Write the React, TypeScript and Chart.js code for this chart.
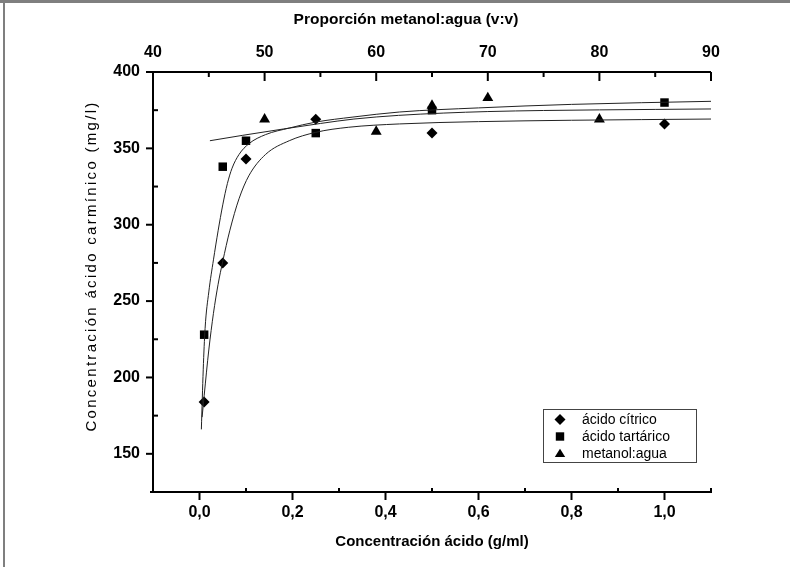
import React, { useEffect, useRef } from 'react';
import { Chart, registerables } from 'chart.js';

Chart.register(...registerables);

// ---- data ----
const seriesLabels = ['ácido cítrico', 'ácido tartárico', 'metanol:agua'];

const citricoX = [0.01, 0.05, 0.1, 0.25, 0.5, 1.0];
const citricoY = [184, 275, 343, 369, 360, 366];

const tartaricoX = [0.01, 0.05, 0.1, 0.25, 0.5, 1.0];
const tartaricoY = [228, 338, 355, 360, 375, 380];

const metanolX = [50, 60, 65, 70, 80];
const metanolY = [369, 361, 378, 383, 369];

// fitted curves
const citricoFitX = [0.0056, 0.01, 0.02, 0.03, 0.04, 0.05, 0.065, 0.085, 0.106, 0.142, 0.193, 0.25, 0.32, 0.43, 0.6, 0.8, 1.1];
const citricoFitY = [174, 188, 218, 242, 261, 276, 296, 317, 332, 346, 355, 360.5, 363.8, 366, 367.5, 368.4, 369.2];

const tartaricoFitX = [0.004, 0.008, 0.012, 0.02, 0.03, 0.04, 0.05, 0.06, 0.07, 0.085, 0.106, 0.142, 0.193, 0.25, 0.33, 0.43, 0.6, 0.8, 1.1];
const tartaricoFitY = [166, 205, 232, 256, 277, 296, 313, 327, 337, 346, 353, 359, 363.3, 367.2, 370.5, 373.8, 376.5, 378.8, 380.8];

const metanolFitX = [45.1, 48, 51.7, 55, 58, 62, 66, 70, 75, 80, 85, 90];
const metanolFitY = [355, 358.5, 362.7, 366.3, 369.2, 371.6, 373.1, 374.1, 374.8, 375.2, 375.5, 375.8];

// axes
const xTicks = [0, 0.2, 0.4, 0.6, 0.8, 1.0];
const xMinorTicks = [0.1, 0.3, 0.5, 0.7, 0.9, 1.1];
const x2Ticks = [40, 50, 60, 70, 80, 90];
const x2MinorTicks = [45, 55, 65, 75, 85];
const yTicks = [150, 200, 250, 300, 350, 400];
const yMinorTicks = [175, 225, 275, 325, 375];

const xTitle = 'Concentración ácido (g/ml)';
const x2Title = 'Proporción metanol:agua (v:v)';
const yTitle = 'Concentración ácido carmínico (mg/l)';

const FONT = "'Liberation Sans', Arial, sans-serif";

function pts(xs: number[], ys: number[]) {
  return xs.map((x, i) => ({ x, y: ys[i] }));
}

function drawMarker(ctx: CanvasRenderingContext2D, style: string, x: number, y: number) {
  ctx.beginPath();
  if (style === 'diamond') {
    const r = 5.5;
    ctx.moveTo(x, y - r);
    ctx.lineTo(x + r, y);
    ctx.lineTo(x, y + r);
    ctx.lineTo(x - r, y);
  } else if (style === 'square') {
    const h = 4.2;
    ctx.rect(x - h, y - h, 2 * h, 2 * h);
  } else {
    const r = 6;
    ctx.moveTo(x, y - r * 0.8);
    ctx.lineTo(x + r * 0.866, y + r * 0.6);
    ctx.lineTo(x - r * 0.866, y + r * 0.6);
  }
  ctx.closePath();
  ctx.fill();
}

const originPlugin = {
  id: 'originAxes',
  beforeDraw(chart: any) {
    const ctx = chart.ctx as CanvasRenderingContext2D;
    ctx.save();
    ctx.fillStyle = '#ffffff';
    ctx.fillRect(0, 0, chart.width, chart.height);
    ctx.fillStyle = '#7f7f7f';
    ctx.fillRect(0, 0, chart.width, 3);
    ctx.fillRect(3, 0, 2, chart.height);
    ctx.restore();
  },
  afterDraw(chart: any) {
    const ctx = chart.ctx as CanvasRenderingContext2D;
    const a = chart.chartArea;
    const sx = chart.scales.x;
    const sx2 = chart.scales.x2;
    const sy = chart.scales.y;
    const line = (x1: number, y1: number, x2: number, y2: number) => {
      ctx.beginPath();
      ctx.moveTo(x1, y1);
      ctx.lineTo(x2, y2);
      ctx.stroke();
    };
    ctx.save();
    ctx.strokeStyle = '#000';
    ctx.lineWidth = 2;
    line(a.left, a.top - 1, a.left, a.bottom + 1);
    line(a.left - 1, a.top, a.right, a.top);
    line(a.left - 3, a.bottom, a.right + 1, a.bottom);

    yTicks.forEach((v) => {
      const p = sy.getPixelForValue(v);
      line(a.left - 7, p, a.left, p);
    });
    yMinorTicks.forEach((v) => {
      const p = sy.getPixelForValue(v);
      line(a.left, p, a.left + 5, p);
    });
    xTicks.forEach((v) => {
      const p = sx.getPixelForValue(v);
      line(p, a.bottom, p, a.bottom + 8);
    });
    xMinorTicks.forEach((v) => {
      const p = sx.getPixelForValue(v);
      line(p, a.bottom, p, a.bottom - 4);
    });
    x2Ticks.forEach((v) => {
      const p = sx2.getPixelForValue(v);
      line(p, a.top, p, a.top + 9);
    });
    x2MinorTicks.forEach((v) => {
      const p = sx2.getPixelForValue(v);
      line(p, a.top, p, a.top + 5);
    });

    // titles
    ctx.fillStyle = '#000';
    ctx.textAlign = 'center';
    ctx.textBaseline = 'middle';
    ctx.font = `bold 15px ${FONT}`;
    ctx.fillText(xTitle, (a.left + a.right) / 2, 542);
    ctx.font = `bold 15.5px ${FONT}`;
    ctx.fillText(x2Title, 406, 20);
    ctx.save();
    ctx.translate(92, 266);
    ctx.rotate(-Math.PI / 2);
    ctx.font = `15px ${FONT}`;
    (ctx as any).letterSpacing = '2.3px';
    ctx.fillText(yTitle, 0, 0);
    ctx.restore();

    // legend
    const bx = 543, by = 409, bw = 153, bh = 53;
    ctx.lineWidth = 1;
    ctx.strokeStyle = '#444';
    ctx.strokeRect(bx + 0.5, by + 0.5, bw, bh);
    const styles = ['diamond', 'square', 'triangle'];
    ctx.textAlign = 'left';
    ctx.font = `14px ${FONT}`;
    seriesLabels.forEach((lab, i) => {
      const yy = by + 10.5 + i * 17;
      ctx.fillStyle = '#000';
      drawMarker(ctx, styles[i], 560, yy);
      ctx.fillText(lab, 582, yy + 0.5);
    });
    ctx.restore();
  },
};

export default function App() {
  const ref = useRef<HTMLCanvasElement | null>(null);

  useEffect(() => {
    if (!ref.current) return;
    const lineStyle = {
      showLine: true,
      pointRadius: 0,
      pointHoverRadius: 0,
      borderColor: '#222',
      borderWidth: 1,
      backgroundColor: '#222',
      cubicInterpolationMode: 'monotone' as const,
      fill: false,
    };
    const chart = new Chart(ref.current, {
      type: 'scatter',
      data: {
        datasets: [
          { label: 'fit cítrico', data: pts(citricoFitX, citricoFitY), xAxisID: 'x', ...lineStyle },
          { label: 'fit tartárico', data: pts(tartaricoFitX, tartaricoFitY), xAxisID: 'x', ...lineStyle },
          { label: 'fit metanol', data: pts(metanolFitX, metanolFitY), xAxisID: 'x2', ...lineStyle },
          {
            label: seriesLabels[0],
            data: pts(citricoX, citricoY),
            xAxisID: 'x',
            pointStyle: 'rectRot',
            pointRadius: 5.5,
            backgroundColor: '#000',
            borderColor: '#000',
            borderWidth: 0,
          },
          {
            label: seriesLabels[1],
            data: pts(tartaricoX, tartaricoY),
            xAxisID: 'x',
            pointStyle: 'rect',
            pointRadius: 6,
            backgroundColor: '#000',
            borderColor: '#000',
            borderWidth: 0,
          },
          {
            label: seriesLabels[2],
            data: pts(metanolX, metanolY),
            xAxisID: 'x2',
            pointStyle: 'triangle',
            pointRadius: 6.3,
            backgroundColor: '#000',
            borderColor: '#000',
            borderWidth: 0,
          },
        ],
      },
      options: {
        animation: false,
        responsive: false,
        devicePixelRatio: 1,
        layout: { padding: { left: 0, top: 0, right: 79, bottom: 0 } },
        plugins: { legend: { display: false }, tooltip: { enabled: false } },
        scales: {
          x: {
            type: 'linear',
            position: 'bottom',
            min: -0.1,
            max: 1.1,
            grid: { display: false, drawTicks: false },
            border: { display: false },
            afterBuildTicks: (s: any) => {
              s.ticks = xTicks.map((v) => ({ value: v }));
            },
            afterFit: (s: any) => {
              s.height = 75;
            },
            ticks: {
              padding: 11,
              color: '#000',
              font: { family: FONT, size: 16, weight: 'bold' },
              callback: (v: any) => Number(v).toFixed(1).replace('.', ','),
            },
          },
          x2: {
            type: 'linear',
            position: 'top',
            min: 40,
            max: 90,
            grid: { display: false, drawTicks: false },
            border: { display: false },
            afterBuildTicks: (s: any) => {
              s.ticks = x2Ticks.map((v) => ({ value: v }));
            },
            afterFit: (s: any) => {
              s.height = 72;
            },
            ticks: {
              padding: 10,
              color: '#000',
              font: { family: FONT, size: 16, weight: 'bold' },
              callback: (v: any) => String(v),
            },
          },
          y: {
            type: 'linear',
            position: 'left',
            min: 125,
            max: 400,
            grid: { display: false, drawTicks: false },
            border: { display: false },
            afterBuildTicks: (s: any) => {
              s.ticks = yTicks.map((v) => ({ value: v }));
            },
            afterFit: (s: any) => {
              s.width = 153;
            },
            ticks: {
              padding: 13,
              color: '#000',
              font: { family: FONT, size: 16, weight: 'bold' },
              callback: (v: any) => String(v),
            },
          },
        },
      },
      plugins: [originPlugin],
    });
    return () => chart.destroy();
  }, []);

  return (
    <div style={{ position: 'absolute', left: 0, top: 0, width: 790, height: 567, background: '#fff' }}>
      <canvas ref={ref} width={790} height={567} style={{ display: 'block', width: 790, height: 567 }} />
    </div>
  );
}
